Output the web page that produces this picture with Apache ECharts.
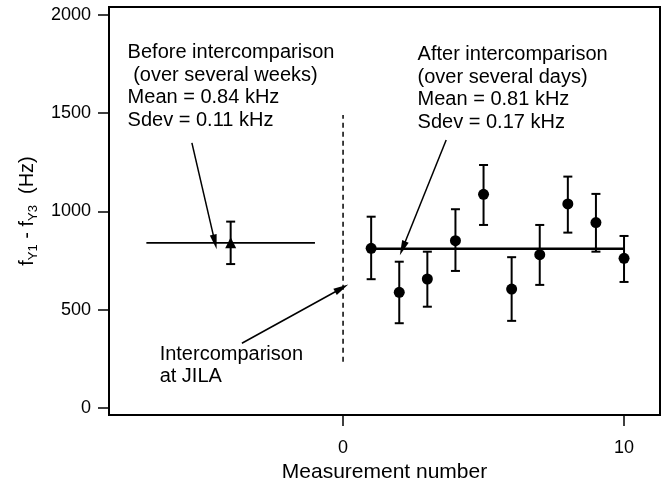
<!DOCTYPE html>
<html><head><meta charset="utf-8">
<script src="https://cdn.jsdelivr.net/npm/echarts@6/dist/echarts.min.js"></script>
<style>html,body{margin:0;padding:0;background:#fff}#c{width:662px;height:481px}</style>
</head><body><div id="c"></div>
<script>
// ---- data ----
const afterX = [1, 2, 3, 4, 5, 6, 7, 8, 9, 10];
const afterY = [812, 588, 656, 851, 1087, 605, 780, 1038, 943, 761];
const afterLow = [655, 431, 515, 697, 931, 443, 626, 892, 795, 641];
const afterHigh = [973, 744, 795, 1011, 1236, 767, 931, 1177, 1089, 875];
const beforeX = [-4];
const beforeY = [840];
const beforeLow = [732];
const beforeHigh = [948];
const afterMean = 810, afterMeanRange = [1, 10];
const beforeMean = 840, beforeMeanRange = [-7, -1];
const intercompX = 0, intercompRange = [235, 1490];
const xTicks = [0, 10];
const yTicks = [0, 500, 1000, 1500, 2000];
const annoX = [-7.65, 2.67, -6.51];
const annoY = [1863, 1853, 327];
const annoText = [
  'Before intercomparison\n (over several weeks)\nMean = 0.84 kHz\nSdev = 0.11 kHz',
  'After intercomparison\n(over several days)\nMean = 0.81 kHz\nSdev = 0.17 kHz',
  'Intercomparison\nat JILA'
];
const arrowFrom = [[-5.38, 1349], [3.67, 1363], [-3.6, 329]];
const arrowTo = [[-4.56, 844], [2.12, 812], [-0.05, 609]];

// ---- chart ----
const FONT = '"Liberation Sans", Arial, Helvetica, sans-serif';
const chart = echarts.init(document.getElementById('c'), null, {renderer: 'canvas'});

function errorBarItem(params, api) {
  const x = api.value(0), lo = api.value(1), hi = api.value(2);
  const pLo = api.coord([x, lo]), pHi = api.coord([x, hi]);
  const hw = 4.5;
  const style = {stroke: '#000', lineWidth: 2, fill: null};
  return {type: 'group', children: [
    {type: 'line', shape: {x1: pLo[0], y1: pLo[1], x2: pHi[0], y2: pHi[1]}, style: style},
    {type: 'line', shape: {x1: pLo[0] - hw, y1: pLo[1], x2: pLo[0] + hw, y2: pLo[1]}, style: style},
    {type: 'line', shape: {x1: pHi[0] - hw, y1: pHi[1], x2: pHi[0] + hw, y2: pHi[1]}, style: style}
  ]};
}

const afterBars = afterX.map((x, i) => [x, afterLow[i], afterHigh[i]]);
const beforeBars = beforeX.map((x, i) => [x, beforeLow[i], beforeHigh[i]]);

chart.setOption({
  animation: false,
  backgroundColor: '#fff',
  textStyle: {fontFamily: FONT, color: '#000'},
  grid: {left: 109, right: 2, top: 7, bottom: 66, containLabel: false, outerBoundsMode: 'none',
         show: true, borderColor: '#000', borderWidth: 2, backgroundColor: 'transparent'},
  xAxis: {
    type: 'value', min: -8.33, max: 11.28,
    name: 'Measurement number', nameLocation: 'middle', nameGap: 43,
    nameTextStyle: {fontFamily: FONT, fontSize: 21, color: '#000'},
    axisLine: {show: true, onZero: false, lineStyle: {color: '#000', width: 2}},
    axisTick: {show: true, customValues: xTicks, length: 11, lineStyle: {color: '#000', width: 1.5}},
    axisLabel: {show: true, customValues: xTicks, margin: 24, fontSize: 18, fontFamily: FONT, color: '#000',
                formatter: v => String(v)},
    splitLine: {show: false}
  },
  yAxis: {
    type: 'value', min: -36, max: 2040,
    name: '{b|f}{s|Y1}{b| - f}{s|Y3}{b|  (Hz)}', nameLocation: 'middle', nameGap: 62, nameRotate: 90,
    nameTextStyle: {fontFamily: FONT, color: '#000', rich: {
      b: {fontSize: 20, fontFamily: FONT, color: '#000', lineHeight: 26},
      s: {fontSize: 13, fontFamily: FONT, color: '#000', lineHeight: 14, verticalAlign: 'bottom', padding: [10, 0, 0, 0]}
    }},
    axisLine: {show: true, onZero: false, lineStyle: {color: '#000', width: 2}},
    axisTick: {show: true, customValues: yTicks, length: 11, lineStyle: {color: '#000', width: 1.5}},
    axisLabel: {show: true, customValues: yTicks, margin: 18, fontSize: 18, fontFamily: FONT, color: '#000',
                formatter: v => String(v)},
    splitLine: {show: false}
  },
  series: [
    {
      type: 'line', name: 'afterMean', data: [[afterMeanRange[0], afterMean], [afterMeanRange[1], afterMean]],
      showSymbol: false, symbol: 'none', lineStyle: {color: '#000', width: 2.3, opacity: 1}, silent: true, z: 2
    },
    {
      type: 'line', name: 'beforeMean', data: [[beforeMeanRange[0], beforeMean], [beforeMeanRange[1], beforeMean]],
      showSymbol: false, symbol: 'none', lineStyle: {color: '#000', width: 1.6, opacity: 1}, silent: true, z: 2
    },
    {
      type: 'line', name: 'intercomparison', data: [[intercompX, intercompRange[0]], [intercompX, intercompRange[1]]],
      showSymbol: false, symbol: 'none', lineStyle: {color: '#000', width: 1.5, type: [5, 4], opacity: 1}, silent: true, z: 2
    },
    {
      type: 'custom', name: 'afterErr', data: afterBars, renderItem: errorBarItem,
      encode: {x: 0, y: [1, 2]}, silent: true, z: 3
    },
    {
      type: 'custom', name: 'beforeErr', data: beforeBars, renderItem: errorBarItem,
      encode: {x: 0, y: [1, 2]}, silent: true, z: 3
    },
    {
      type: 'scatter', name: 'after', data: afterX.map((x, i) => [x, afterY[i]]),
      symbol: 'circle', symbolSize: 11, itemStyle: {color: '#000', borderWidth: 0, opacity: 1}, silent: true, z: 4
    },
    {
      type: 'scatter', name: 'before', data: beforeX.map((x, i) => [x, beforeY[i]]),
      symbol: 'triangle', symbolSize: 11, itemStyle: {color: '#000', borderWidth: 0, opacity: 1}, silent: true, z: 4
    },
    {
      type: 'scatter', name: 'annotations', data: annoX.map((x, i) => ({value: [x, annoY[i]], text: annoText[i]})),
      symbolSize: 1, itemStyle: {color: 'rgba(0,0,0,0)', opacity: 1}, silent: true, z: 5,
      label: {show: true, position: [0, 0], align: 'left', verticalAlign: 'top', opacity: 1,
              formatter: p => p.data.text, fontFamily: FONT, fontSize: 20, lineHeight: 22.5, color: '#000'}
    },
    {
      type: 'line', name: 'arrows', data: [], silent: true,
      markLine: {
        silent: true, animation: false, symbol: ['none', 'triangle'], symbolSize: [7, 15],
        lineStyle: {color: '#000', width: 1.5, type: 'solid', opacity: 1}, label: {show: false},
        data: arrowFrom.map((f, i) => [{coord: f}, {coord: arrowTo[i]}])
      }
    }
  ]
});
</script></body></html>
